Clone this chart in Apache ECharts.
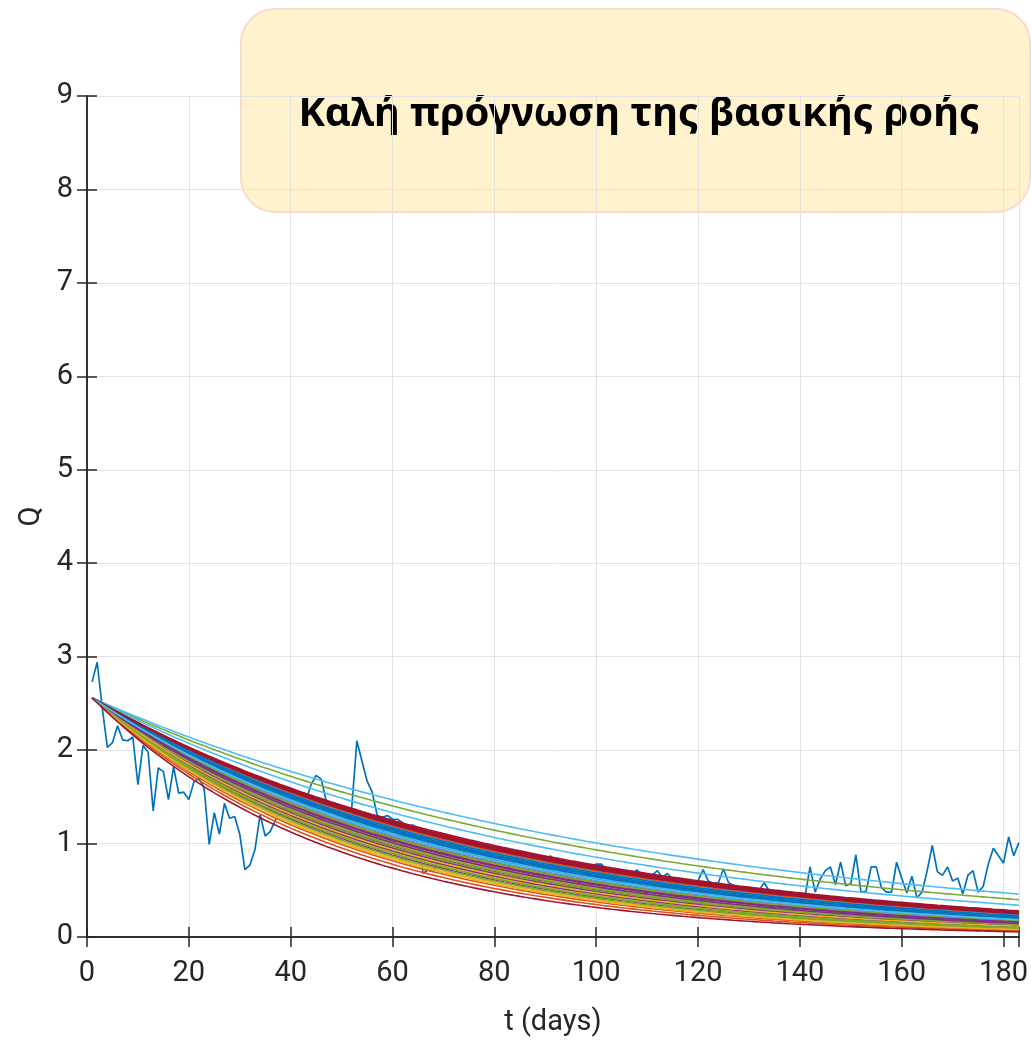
<!DOCTYPE html>
<html>
<head>
<meta charset="utf-8">
<title>Baseflow recession forecast</title>
<script src="https://cdn.jsdelivr.net/npm/echarts@6/dist/echarts.min.js"></script>
<style>
  html, body { margin: 0; padding: 0; background: #ffffff; }
  #chart { width: 1031px; height: 1042px; }
</style>
</head>
<body>
<div id="chart"></div>
<script>
// Observed daily discharge Q, days 1..183
const observedQ = [
  2.73, 2.94, 2.45, 2.03, 2.08, 2.26, 2.11, 2.10, 2.14, 1.63,
  2.05, 1.98, 1.35, 1.81, 1.77, 1.47, 1.82, 1.54, 1.55, 1.47,
  1.66, 1.70, 1.59, 0.99, 1.33, 1.10, 1.43, 1.27, 1.29, 1.10,
  0.72, 0.77, 0.94, 1.31, 1.08, 1.13, 1.25, 1.38, 1.30, 1.42,
  1.35, 1.40, 1.46, 1.63, 1.73, 1.69, 1.45, 1.38, 1.30, 1.33,
  1.28, 1.39, 2.10, 1.88, 1.67, 1.55, 1.30, 1.28, 1.30, 1.26,
  1.26, 1.22, 1.17, 1.20, 1.05, 0.68, 0.72, 0.70, 0.88, 1.00,
  1.03, 0.98, 1.01, 0.96, 0.99, 0.94, 0.97, 0.92, 0.95, 0.91,
  0.93, 0.89, 0.91, 0.86, 0.88, 0.84, 0.86, 0.82, 0.81, 0.80,
  0.87, 0.80, 0.79, 0.76, 0.77, 0.74, 0.75, 0.73, 0.75, 0.78,
  0.78, 0.72, 0.70, 0.72, 0.69, 0.68, 0.66, 0.72, 0.65, 0.64,
  0.66, 0.71, 0.64, 0.68, 0.62, 0.60, 0.61, 0.59, 0.58, 0.60,
  0.72, 0.60, 0.57, 0.58, 0.73, 0.58, 0.55, 0.54, 0.53, 0.52,
  0.51, 0.50, 0.58, 0.49, 0.48, 0.47, 0.46, 0.45, 0.45, 0.44,
  0.43, 0.75, 0.48, 0.62, 0.71, 0.75, 0.56, 0.80, 0.55, 0.57,
  0.88, 0.48, 0.49, 0.75, 0.75, 0.53, 0.48, 0.48, 0.80, 0.63,
  0.47, 0.65, 0.42, 0.48, 0.71, 0.98, 0.70, 0.66, 0.75, 0.60,
  0.63, 0.46, 0.66, 0.71, 0.48, 0.54, 0.78, 0.95, 0.87, 0.79,
  1.07, 0.87, 1.01
];

// Forecast ensemble: every member recedes from the same initial flow
// to its own flow on the last day of the horizon
const startQ = 2.56;
const endQ = [
  0.215, 0.245, 0.150, 0.130, 0.400, 0.460, 0.280,
  0.200, 0.230, 0.120, 0.175, 0.160, 0.340, 0.270,
  0.225, 0.260, 0.105, 0.140, 0.190, 0.235, 0.262,
  0.205, 0.190, 0.165, 0.095, 0.125, 0.210, 0.255,
  0.222, 0.250, 0.135, 0.155, 0.110, 0.180, 0.240,
  0.195, 0.205, 0.085, 0.120, 0.145, 0.225, 0.272,
  0.210, 0.170, 0.100, 0.185, 0.170, 0.200, 0.265,
  0.218, 0.240, 0.140, 0.110, 0.090, 0.230, 0.250,
  0.228, 0.075, 0.115, 0.160, 0.135, 0.195, 0.258,
  0.202, 0.065, 0.080, 0.145, 0.100, 0.185, 0.055
];

const xTicks = [0, 20, 40, 60, 80, 100, 120, 140, 160, 180];
const yTicks = [0, 1, 2, 3, 4, 5, 6, 7, 8, 9];

// Title of the panel (precomposed Greek letters with tonos)
const panelTitle = 'Καλ\u03AE πρ\u03CCγνωση της βασικ\u03AEς ρο\u03AEς';

const palette = ['#0072BD', '#D95319', '#EDB120', '#7E2F8E', '#77AC30', '#4DBEEE', '#A2142F'];
const axisColor = '#262626';
const labelFont = 'Roboto, "Liberation Sans", sans-serif';
const labelSize = 29;

const days = observedQ.map((_, i) => i + 1);
const lastDay = days[days.length - 1];

const series = [{
  name: 'observed',
  type: 'line',
  showSymbol: false,
  data: days.map((d, i) => [d, observedQ[i]]),
  lineStyle: { color: palette[0], width: 1.7 },
  z: 2
}];

endQ.forEach((qEnd, m) => {
  // exponential recession constant of this member
  const k = Math.log(startQ / qEnd) / (lastDay - 1);
  series.push({
    name: 'member ' + (m + 1),
    type: 'line',
    showSymbol: false,
    data: days.map(d => [d, startQ * Math.exp(-k * (d - 1))]),
    lineStyle: { color: palette[m % palette.length], width: 1.6 },
    z: 3
  });
});

const chart = echarts.init(document.getElementById('chart'), null, { renderer: 'canvas' });

const tickStyle = { show: true, inside: true, length: 10, lineStyle: { color: axisColor, width: 1.5 } };
const lineStyle = { show: true, lineStyle: { color: axisColor, width: 1.5 } };

chart.setOption({
  animation: false,
  grid: { left: 87, right: 10, top: 96, bottom: 102, containLabel: false },
  xAxis: [{
    type: 'value',
    min: xTicks[0],
    max: lastDay,
    interval: 20,
    name: 't (days)',
    nameLocation: 'middle',
    nameGap: 71,
    nameTextStyle: { fontFamily: labelFont, fontSize: labelSize, color: axisColor },
    axisLine: lineStyle,
    axisTick: tickStyle,
    axisLabel: {
      margin: 22,
      fontFamily: labelFont, fontSize: labelSize, color: axisColor,
      formatter: v => (xTicks.indexOf(v) >= 0 ? String(v) : '')
    },
    splitLine: { show: true, lineStyle: { color: '#e2e2e2', width: 1 } }
  }, {
    type: 'value',
    position: 'top',
    min: xTicks[0],
    max: lastDay,
    interval: 20,
    axisLine: lineStyle,
    axisTick: tickStyle,
    axisLabel: { show: false },
    splitLine: { show: false }
  }],
  yAxis: [{
    type: 'value',
    min: yTicks[0],
    max: yTicks[yTicks.length - 1],
    interval: 1,
    name: 'Q',
    nameLocation: 'middle',
    nameGap: 41,
    nameTextStyle: { fontFamily: labelFont, fontSize: labelSize, color: axisColor },
    axisLine: lineStyle,
    axisTick: tickStyle,
    axisLabel: { margin: 14, fontFamily: labelFont, fontSize: labelSize, color: axisColor },
    splitLine: { show: true, lineStyle: { color: '#e2e2e2', width: 1 } }
  }, {
    type: 'value',
    position: 'right',
    min: yTicks[0],
    max: yTicks[yTicks.length - 1],
    interval: 1,
    axisLine: lineStyle,
    axisTick: tickStyle,
    axisLabel: { show: false },
    splitLine: { show: false }
  }],
  series: series,
  graphic: [{
    type: 'group',
    z: 100,
    children: [{
      type: 'rect',
      shape: { x: 241, y: 9, width: 789, height: 203, r: 34 },
      style: { fill: '#FFF2CC', stroke: '#F6DCCF', lineWidth: 2 }
    }, {
      type: 'text',
      x: 639,
      y: 115,
      style: {
        text: panelTitle,
        fontFamily: '"Noto Sans", "DejaVu Sans", sans-serif',
        fontWeight: 'bold',
        fontSize: 40,
        fill: '#000000',
        align: 'center',
        verticalAlign: 'middle'
      }
    }]
  }]
});
</script>
</body>
</html>
